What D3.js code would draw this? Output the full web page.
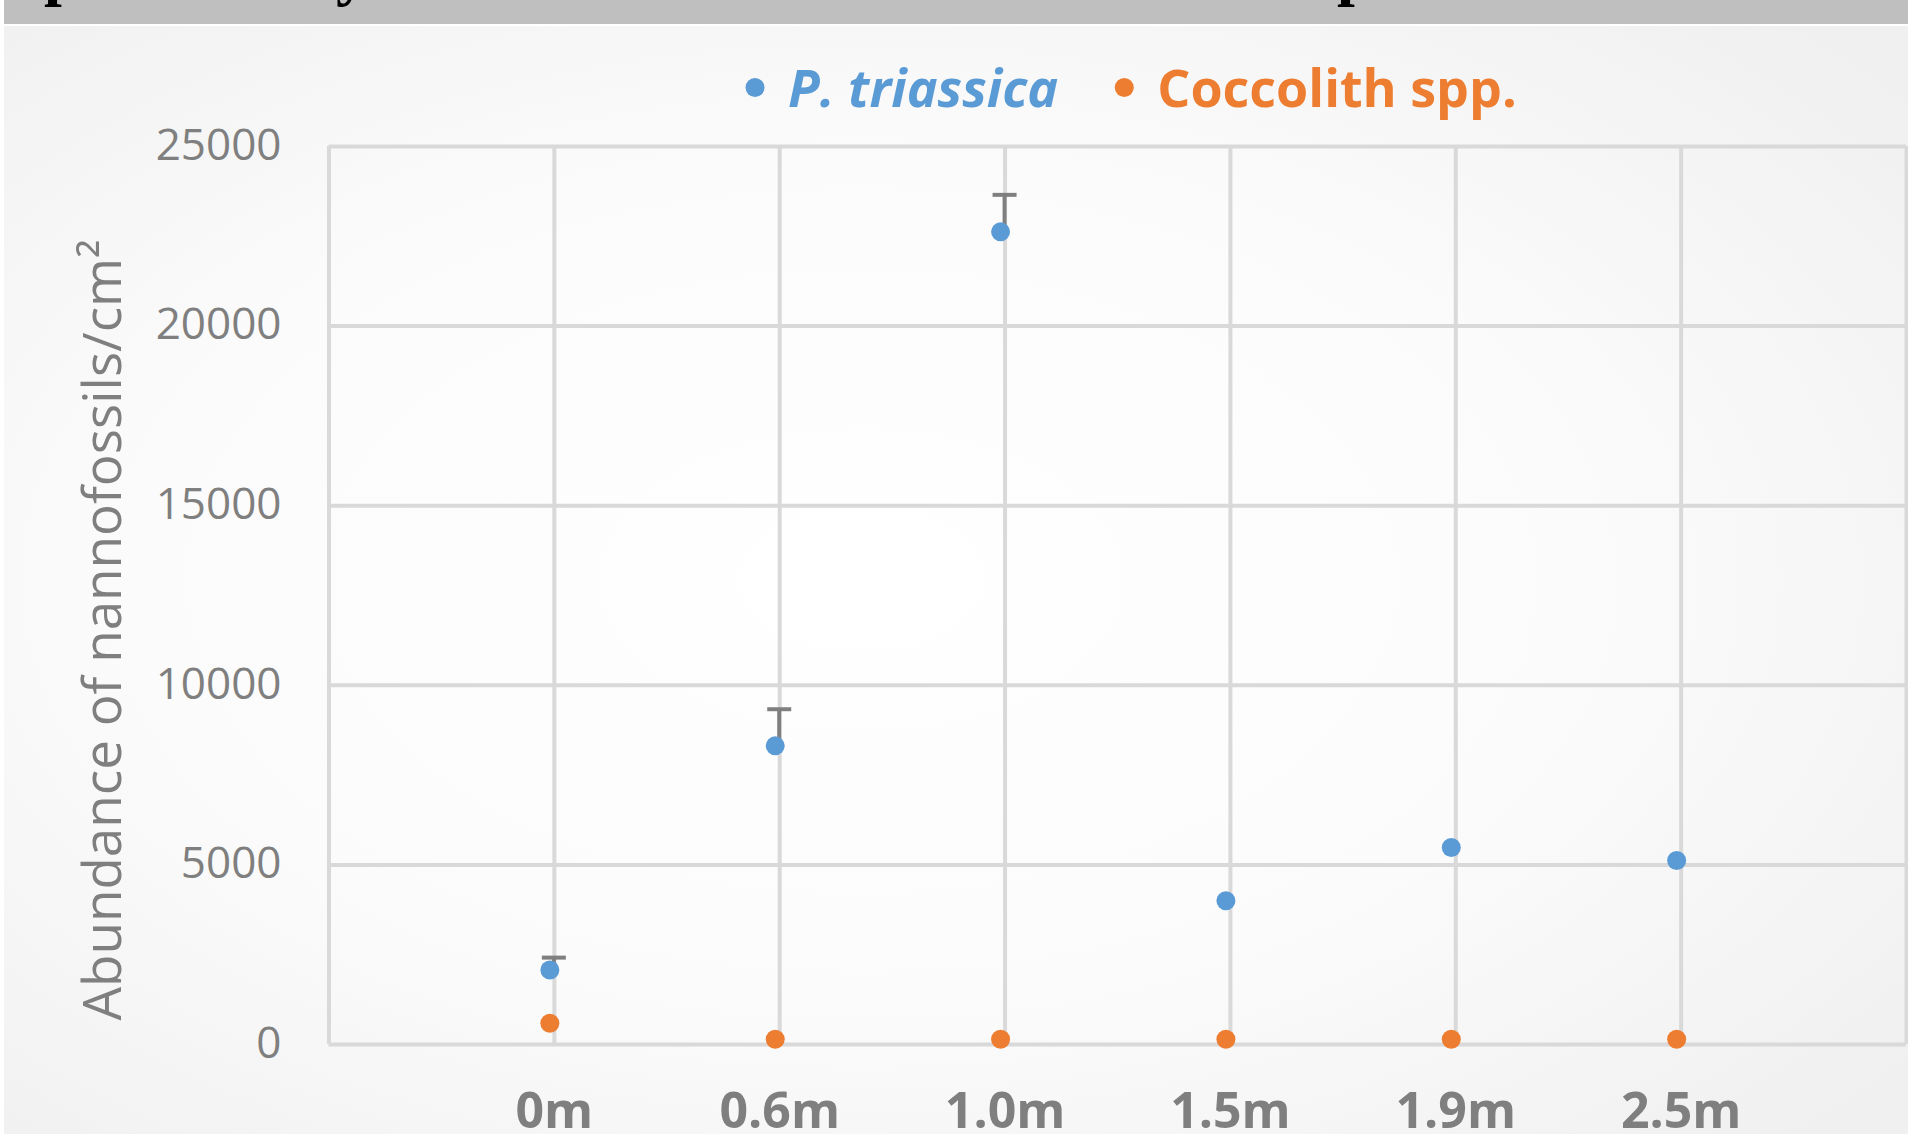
<html>
    <head>
        <script src="https://d3js.org/d3.v7.min.js"></script>
        <style>
            body {
                margin: 0;
                background: #fff;
            }

            .gridlines line {
                stroke: #d9d9d9;
                stroke-width: 4;
            }

            .gridlines .domain {
                stroke: none;
            }

            .axis .domain, .axis line {
                stroke: none;
            }

            .axis text {
                fill: #7f7f7f;
                font-family: "Open Sans";
            }
        </style>
    </head>
    <body>
        <svg height="1134" width="1908" id="scatter">
            <defs>
                <radialGradient id="bg" cx="45%" cy="50%" r="70%">
                    <stop offset="0%" stop-color="#ffffff" />
                    <stop offset="55%" stop-color="#fbfbfb" />
                    <stop offset="100%" stop-color="#f0f0f0" />
                </radialGradient>
            </defs>
        </svg>

        <script>
            // data
            const depths = ["0m", "0.6m", "1.0m", "1.5m", "1.9m", "2.5m"];
            const triassica = [2060, 8300, 22610, 3990, 5470, 5110];
            const triassicaErr = [345, 1020, 1030, 0, 0, 0];
            const coccolith = [580, 130, 130, 130, 130, 130];
            const yTicks = [0, 5000, 10000, 15000, 20000, 25000];
            const seriesNames = ["P. triassica", "Coccolith spp."];

            const blue = "#5b9bd5";
            const orange = "#ed7d31";

            const svg = d3.select("#scatter");
            const width = +svg.attr("width");
            const height = +svg.attr("height");

            let margin = { "top": 146, "right": 2, "bottom": 90, "left": 328.5 };
            const chartWidth = width - margin.left - margin.right;
            const chartHeight = height - margin.top - margin.bottom;

            // grey strip at the top with the cut-off title line
            svg.append("rect")
                .attr("x", 4).attr("y", 0)
                .attr("width", width - 4).attr("height", 24)
                .attr("fill", "#bfbfbf");

            const strip = svg.append("g").attr("clip-path", "url(#stripClip)");
            svg.select("defs").append("clipPath").attr("id", "stripClip")
                .append("rect").attr("x", 4).attr("y", 0).attr("width", width).attr("height", 24);
            strip.selectAll("text")
                .data([["p", 44], ["y", 336], ["p", 1337]])
                .join("text")
                .attr("x", d => d[1])
                .attr("y", -7)
                .attr("font-family", "Liberation Serif")
                .attr("font-weight", "bold")
                .attr("font-size", 64)
                .attr("fill", "#000")
                .text(d => d[0]);

            // chart area
            svg.append("rect")
                .attr("x", 4).attr("y", 26)
                .attr("width", width - 4).attr("height", height - 26)
                .attr("fill", "url(#bg)");

            let yScale = d3.scaleLinear().domain([0, 25000]).range([chartHeight, 0]);
            let xScale = d3.scaleLinear().domain([0, depths.length + 1]).range([0, chartWidth]);

            // gridlines
            svg.append("g")
                .attr("class", "gridlines")
                .attr("transform", `translate(${margin.left},${margin.top})`)
                .call(d3.axisLeft(yScale).tickValues(yTicks).tickSize(-chartWidth).tickFormat(""));

            svg.append("g")
                .attr("class", "gridlines")
                .attr("transform", `translate(${margin.left},${margin.top + chartHeight})`)
                .call(d3.axisBottom(xScale).tickValues(d3.range(0, depths.length + 2)).tickSize(-chartHeight).tickFormat(""));

            // axes labels
            let leftAxis = d3.axisLeft(yScale).tickValues(yTicks).tickSize(0).tickPadding(47).tickFormat(d3.format("d"));
            svg.append("g")
                .attr("class", "y axis")
                .attr("transform", `translate(${margin.left},${margin.top})`)
                .call(leftAxis)
                .selectAll("text")
                .attr("font-size", 44)
                .attr("dy", "0.3em");

            let bottomAxis = d3.axisBottom(xScale)
                .tickValues(d3.range(1, depths.length + 1))
                .tickSize(0)
                .tickFormat(i => depths[i - 1]);
            svg.append("g")
                .attr("class", "x axis")
                .attr("transform", `translate(${margin.left},${margin.top + chartHeight})`)
                .call(bottomAxis)
                .selectAll("text")
                .attr("font-size", 50)
                .attr("font-weight", "bold")
                .attr("dy", null)
                .attr("y", 84);

            // y axis title
            svg.append("text")
                .attr("transform", `translate(121,630) rotate(-90)`)
                .attr("text-anchor", "middle")
                .attr("font-family", "Open Sans")
                .attr("font-size", 53)
                .attr("fill", "#7f7f7f")
                .text("Abundance of nannofossils/cm²");

            const chart = svg.append("g")
                .attr("class", "chart")
                .attr("transform", `translate(${margin.left},${margin.top})`);

            const markerShift = -4;

            // error bars (plus direction only)
            let errs = chart.selectAll("g.err")
                .data(depths.map((d, i) => ({ i: i, v: triassica[i], e: triassicaErr[i] })).filter(d => d.e > 0))
                .join("g")
                .attr("class", "err");
            errs.append("line")
                .attr("x1", d => xScale(d.i + 1))
                .attr("x2", d => xScale(d.i + 1))
                .attr("y1", d => yScale(d.v))
                .attr("y2", d => yScale(d.v + d.e))
                .attr("stroke", "#7f7f7f")
                .attr("stroke-width", 4);
            errs.append("line")
                .attr("x1", d => xScale(d.i + 1) - 12)
                .attr("x2", d => xScale(d.i + 1) + 12)
                .attr("y1", d => yScale(d.v + d.e))
                .attr("y2", d => yScale(d.v + d.e))
                .attr("stroke", "#7f7f7f")
                .attr("stroke-width", 4);

            chart.selectAll("circle.triassica")
                .data(triassica)
                .join("circle")
                .attr("class", "triassica")
                .attr("cx", (d, i) => xScale(i + 1) + markerShift)
                .attr("cy", d => yScale(d))
                .attr("r", 9.5)
                .attr("fill", blue);

            chart.selectAll("circle.coccolith")
                .data(coccolith)
                .join("circle")
                .attr("class", "coccolith")
                .attr("cx", (d, i) => xScale(i + 1) + markerShift)
                .attr("cy", d => yScale(d))
                .attr("r", 9.5)
                .attr("fill", orange);

            // legend
            const legend = svg.append("g").attr("class", "legend");
            let lx = 755;
            seriesNames.forEach(function (name, k) {
                const col = k == 0 ? blue : orange;
                legend.append("circle")
                    .attr("cx", lx)
                    .attr("cy", 87.5)
                    .attr("r", 9.5)
                    .attr("fill", col);
                const t = legend.append("text")
                    .attr("x", lx + 33)
                    .attr("y", 107)
                    .attr("font-family", "Open Sans")
                    .attr("font-size", 52)
                    .attr("font-weight", "bold")
                    .attr("font-style", k == 0 ? "italic" : "normal")
                    .attr("fill", col)
                    .text(name);
                lx = lx + 33 + t.node().getComputedTextLength() + 66;
            });
        </script>
    </body>
</html>
